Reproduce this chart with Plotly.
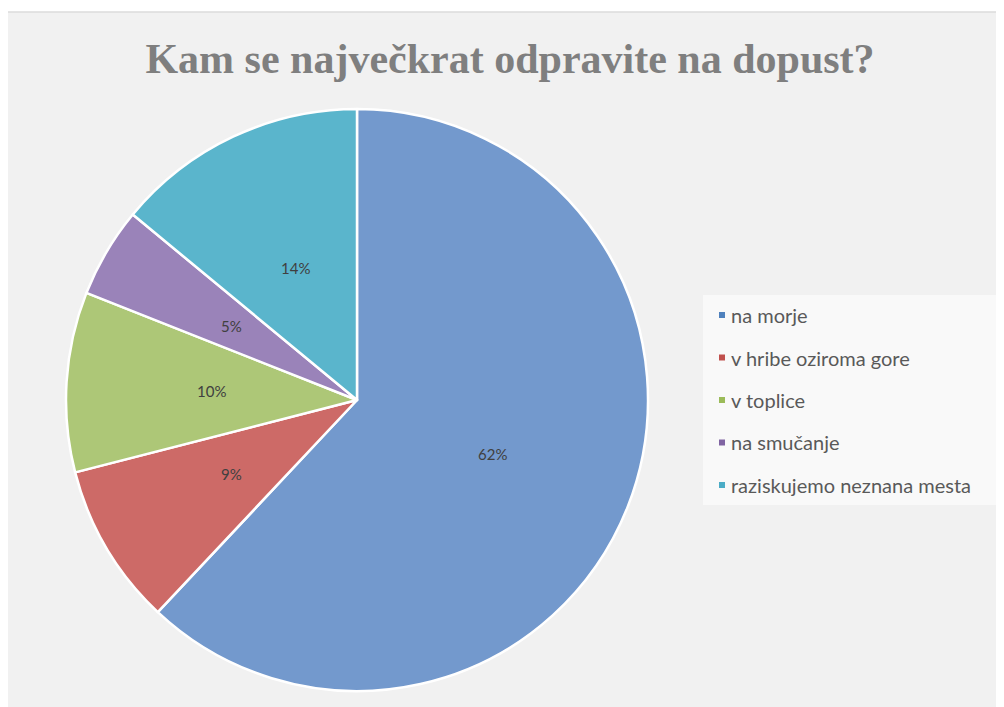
import math
import plotly.graph_objects as go

W, H = 1004, 707
OFF = 8  # page body margin that offsets the figure in the browser

title_text = "Kam se največkrat odpravite na dopust?"
categories = ["na morje", "v hribe oziroma gore", "v toplice", "na smučanje",
              "raziskujemo neznana mesta"]
values = [62, 9, 10, 5, 14]
colors = ["#7399cd", "#cd6a67", "#adc777", "#9a83b9", "#5ab5cc"]
legend_marker_colors = ["#4f81bd", "#c0504d", "#9bbb59", "#8064a2", "#4bacc6"]


def px(x):
    return (x - OFF) / W


def py(y):
    return 1 - (y - OFF) / H


# pie geometry in page pixels
cx, cy, r = 357, 400, 291

fig = go.Figure()
fig.add_trace(go.Pie(
    labels=categories,
    values=values,
    sort=False,
    direction="clockwise",
    rotation=0,
    marker=dict(colors=colors, line=dict(color="white", width=2.5)),
    textinfo="none",
    domain=dict(x=[px(cx - r), px(cx + r)], y=[py(cy + r), py(cy - r)]),
    showlegend=False,
    hoverinfo="label+percent",
))

shapes = [
    dict(type="rect", xref="paper", yref="paper", x0=0, x1=1, y0=py(12), y1=1,
         fillcolor="white", line=dict(width=0), layer="below"),
    dict(type="rect", xref="paper", yref="paper", x0=px(6), x1=1.01, y0=-0.01, y1=py(12),
         fillcolor="rgba(0,0,0,0)", line=dict(width=1.5, color="#dcdcdc"), layer="below"),
    dict(type="rect", xref="paper", yref="paper", x0=px(703), x1=px(1001),
         y0=py(505), y1=py(295),
         fillcolor="#f9f9f9", line=dict(width=0), layer="below"),
]

annotations = []
# data labels at half radius along each slice's mid angle
total = sum(values)
cum = 0
for v in values:
    mid = (cum + v / 2) / total * 2 * math.pi
    cum += v
    lx = cx + 0.5 * r * math.sin(mid)
    ly = cy - 0.5 * r * math.cos(mid)
    annotations.append(dict(text=f"{round(100 * v / total)}%", xref="paper", yref="paper",
                            x=px(lx), y=py(ly), xanchor="center", yanchor="middle",
                            showarrow=False,
                            font=dict(family="Lato, Carlito, sans-serif", size=15, color="#404040")))

leg_x_marker = 722
leg_x_text = 729
leg_y0 = 315
leg_dy = 42.5
for i, (lab, col) in enumerate(zip(categories, legend_marker_colors)):
    y = leg_y0 + i * leg_dy
    shapes.append(dict(type="rect", xref="paper", yref="paper",
                       x0=px(leg_x_marker - 3), x1=px(leg_x_marker + 3),
                       y0=py(y + 3), y1=py(y - 3),
                       fillcolor=col, line=dict(width=0)))
    annotations.append(dict(text=lab, xref="paper", yref="paper",
                            x=px(leg_x_text), y=py(y), xanchor="left", yanchor="middle",
                            showarrow=False,
                            font=dict(family="Lato, Carlito, sans-serif", size=20, color="#595959")))

fig.update_layout(
    width=W, height=H,
    margin=dict(l=0, r=0, t=0, b=0),
    paper_bgcolor="#f1f1f1",
    plot_bgcolor="#f1f1f1",
    title=dict(text="<b>" + title_text + "</b>", x=px(510), xanchor="center",
               y=py(58), yanchor="middle", yref="container",
               font=dict(family="Liberation Serif, DejaVu Serif, serif", size=42, color="#7f7f7f")),
    shapes=shapes,
    annotations=annotations,
    showlegend=False,
)

fig.write_html("out.html")
